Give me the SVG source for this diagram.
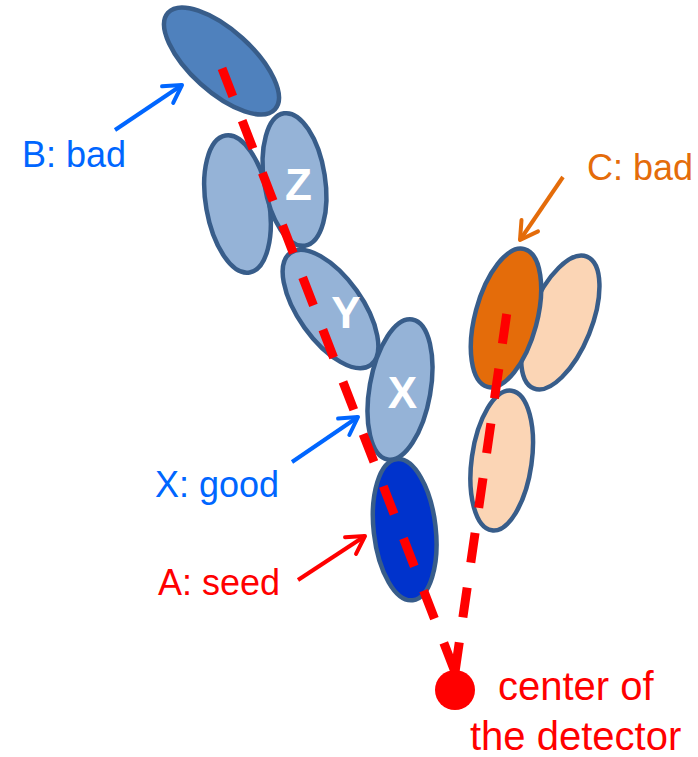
<svg xmlns="http://www.w3.org/2000/svg" width="698" height="757" viewBox="0 0 698 757">
<defs>
<style>
.e{stroke:#385D8A;stroke-width:4.5}
.lb{fill:#95B3D7}
.lbl{font-family:"Liberation Sans",Arial,sans-serif;font-size:44px;font-weight:bold;fill:#FFFFFF;text-anchor:middle}
.t{font-family:"Liberation Sans",Arial,sans-serif;font-size:36px}
.td{font-family:"Liberation Sans",Arial,sans-serif;font-size:40px;fill:#FF0000}
.dash{fill:none;stroke:#FF0000;stroke-width:9}
.arr{fill:none;stroke-width:4}
</style>
<marker id="hb" markerUnits="userSpaceOnUse" viewBox="0 0 24 24" refX="21" refY="12" markerWidth="24" markerHeight="24" orient="auto" overflow="visible"><path d="M3.7,2 L21,12 L3.7,22" fill="none" stroke="#0066FF" stroke-width="4" stroke-linecap="round" stroke-linejoin="round"/></marker>
<marker id="hr" markerUnits="userSpaceOnUse" viewBox="0 0 24 24" refX="21" refY="12" markerWidth="24" markerHeight="24" orient="auto" overflow="visible"><path d="M3.7,2 L21,12 L3.7,22" fill="none" stroke="#FF0000" stroke-width="4" stroke-linecap="round" stroke-linejoin="round"/></marker>
<marker id="ho" markerUnits="userSpaceOnUse" viewBox="0 0 24 24" refX="21" refY="12" markerWidth="24" markerHeight="24" orient="auto" overflow="visible"><path d="M3.7,2 L21,12 L3.7,22" fill="none" stroke="#E46C0A" stroke-width="4" stroke-linecap="round" stroke-linejoin="round"/></marker>
</defs>
<rect width="698" height="757" fill="#FFFFFF"/>

<g id="left-cluster">
<ellipse id="n-left" class="e lb" cx="237.5" cy="204" rx="31.5" ry="69.5" transform="rotate(-10 237.5 204)"/>
<g id="n-Z"><ellipse class="e lb" cx="294.5" cy="179.5" rx="30.5" ry="67" transform="rotate(-9 294.5 179.5)"/><text class="lbl" x="298.5" y="200">Z</text></g>
<ellipse id="n-B" class="e" fill="#4F81BD" cx="221.5" cy="61" rx="72" ry="31" transform="rotate(42 221.5 61)"/>
<g id="n-Y"><ellipse class="e lb" cx="330.5" cy="309" rx="69" ry="32" transform="rotate(54.5 330.5 309)"/><text class="lbl" x="346" y="328">Y</text></g>
<g id="n-X"><ellipse class="e lb" cx="400" cy="389.5" rx="30.5" ry="71" transform="rotate(10 400 389.5)"/><text class="lbl" x="402.5" y="408">X</text></g>
<ellipse id="n-A" class="e" fill="#0033CC" cx="404.7" cy="529.7" rx="31" ry="71" transform="rotate(-6.5 404.7 529.7)"/>
</g>

<g id="right-cluster">
<ellipse id="n-right" class="e" fill="#FBD5B5" cx="560.3" cy="322.5" rx="31" ry="71" transform="rotate(22 560.3 322.5)"/>
<ellipse id="n-lower" class="e" fill="#FBD5B5" cx="501.7" cy="460.5" rx="30" ry="70.5" transform="rotate(8 501.7 460.5)"/>
<ellipse id="n-C" class="e" fill="#E46C0A" cx="506" cy="318" rx="31" ry="71.3" transform="rotate(15 506 318)"/>
</g>

<g id="connectors">
<path class="dash" d="M222,68.3 L455,672" stroke-dasharray="30 26"/>
<path class="dash" d="M506.7,314 L455,672" stroke-dasharray="30 25.3"/>
<path class="arr" stroke="#0066FF" d="M115,130 L182,85" marker-end="url(#hb)"/>
<path class="arr" stroke="#0066FF" d="M292,462 L358,417" marker-end="url(#hb)"/>
<path class="arr" stroke="#FF0000" d="M298,580 L365,536" marker-end="url(#hr)"/>
<path class="arr" stroke="#E46C0A" d="M563,177 L520,240" marker-end="url(#ho)"/>
</g>

<g id="detector">
<circle cx="455" cy="690" r="20" fill="#FF0000"/>
<text class="td" x="498" y="700">center of</text>
<text class="td" x="470" y="750">the detector</text>
</g>

<g id="labels">
<text class="t" fill="#0066FF" x="22" y="167">B: bad</text>
<text class="t" fill="#0066FF" x="155" y="497">X: good</text>
<text class="t" fill="#FF0000" x="158" y="595">A: seed</text>
<text class="t" fill="#E46C0A" x="587" y="180">C: bad</text>
</g>
</svg>
